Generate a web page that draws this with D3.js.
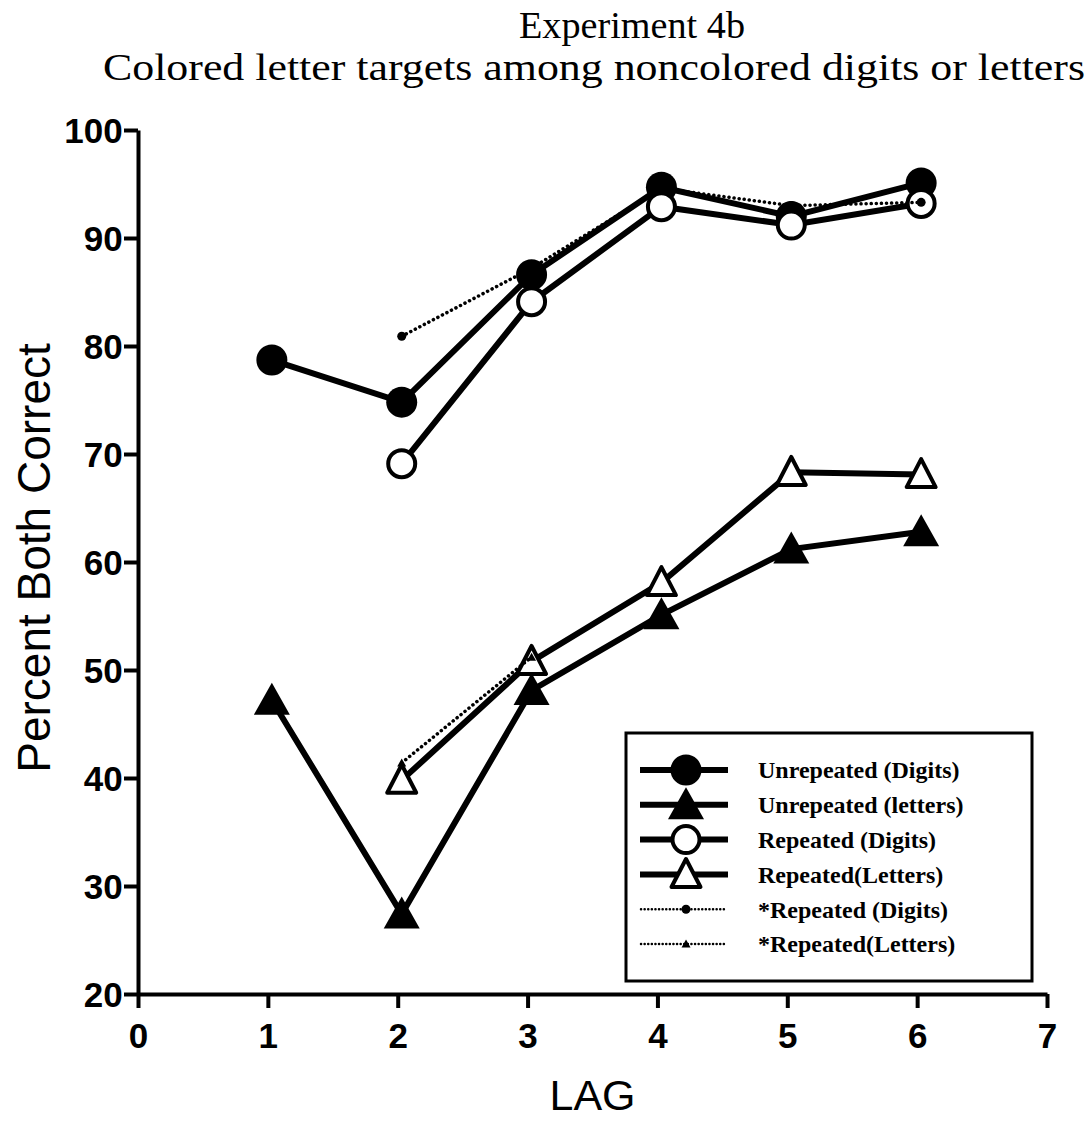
<!DOCTYPE html>
<html><head><meta charset="utf-8">
<script src="https://cdn.jsdelivr.net/npm/d3@7"></script>
<style>body{margin:0;background:#fff}svg{display:block}</style>
</head><body>
<svg id="c" width="1090" height="1123"></svg>
<script>
const lags = [1, 2, 3, 4, 5, 6];
const unrepDigits  = [78.7, 74.8, 86.6, 94.7, 92.0, 95.1];
const unrepLetters = [47.2, 27.4, 48.1, 55.1, 61.2, 62.8];
const repDigits    = [null, 69.1, 84.1, 92.9, 91.2, 93.2];
const repLetters   = [null, 39.8, 50.8, 58.1, 68.3, 68.1];
const starRepDigits  = [null, 80.9, 87.2, 94.6, 93.0, 93.3];
const starRepLetters = [null, 41.4, 51.2, null, null, null];
const xTicks = [0, 1, 2, 3, 4, 5, 6, 7];
const yTicks = [20, 30, 40, 50, 60, 70, 80, 90, 100];
const titleLines = ["Experiment 4b", "Colored letter targets among noncolored digits or letters"];
const legendLabels = ["Unrepeated (Digits)", "Unrepeated (letters)", "Repeated (Digits)", "Repeated(Letters)", "*Repeated (Digits)", "*Repeated(Letters)"];

const svg = d3.select("#c");
const x = d3.scaleLinear().domain([0, 7]).range([138, 1047]);
const y = d3.scaleLinear().domain([20, 100]).range([994, 130]);
const sans = "'Liberation Sans', Arial, sans-serif";
const serif = "'Liberation Serif', 'Times New Roman', serif";

// title
svg.append("text").attr("x", 632).attr("y", 38).attr("text-anchor", "middle")
  .attr("font-family", serif).attr("font-size", 37)
  .attr("textLength", 226).attr("lengthAdjust", "spacingAndGlyphs").text(titleLines[0]);
svg.append("text").attr("x", 594).attr("y", 80).attr("text-anchor", "middle")
  .attr("font-family", serif).attr("font-size", 37)
  .attr("textLength", 982).attr("lengthAdjust", "spacingAndGlyphs").text(titleLines[1]);

// axes
const gx = svg.append("g").attr("transform", `translate(0,${y(20)})`)
  .call(d3.axisBottom(x).tickValues(xTicks).tickFormat(d3.format("d")).tickSize(14).tickSizeOuter(0));
const gy = svg.append("g").attr("transform", `translate(${x(0)},0)`)
  .call(d3.axisLeft(y).tickValues(yTicks).tickFormat(d3.format("d")).tickSize(14).tickSizeOuter(0));
[gx, gy].forEach(g => {
  g.select(".domain").attr("stroke", "#000").attr("stroke-width", 4);
  g.selectAll(".tick line").attr("stroke", "#000").attr("stroke-width", 4);
  g.selectAll(".tick text").attr("font-family", sans).attr("font-weight", "bold")
    .attr("font-size", 35).attr("fill", "#000");
});
gx.selectAll(".tick text").attr("dy", "1.05em");
gy.selectAll(".tick text").attr("dx", "0.05em").attr("dy", "0.36em");

// axis titles
svg.append("text").attr("transform", `translate(50,${(y(20)+y(100))/2 - 4}) rotate(-90)`)
  .attr("text-anchor", "middle").attr("font-family", sans).attr("font-size", 46).text("Percent Both Correct");
svg.append("text").attr("x", x(3.5)).attr("y", 1110).attr("text-anchor", "middle")
  .attr("font-family", sans).attr("font-size", 43).text("LAG");

// marker helpers
function tri(cx, cy, w, h) {
  return `M${cx},${cy - h * 0.55}L${cx + w / 2},${cy + h * 0.45}L${cx - w / 2},${cy + h * 0.45}Z`;
}
const dx = 4;
const line = d3.line().defined(d => d[1] != null).x(d => x(d[0]) + dx).y(d => y(d[1]));
const pts = vals => lags.map((l, i) => [l, vals[i]]);

const series = [
  {vals: unrepDigits, marker: "fcircle"},
  {vals: repDigits, marker: "ocircle"},
  {vals: unrepLetters, marker: "ftri"},
  {vals: repLetters, marker: "otri"}
];
const plot = svg.append("g");
function drawMarker(g, type, cx, cy, scale) {
  scale = scale || 1;
  if (type === "fcircle") g.append("circle").attr("cx", cx).attr("cy", cy).attr("r", 15.5 * scale).attr("fill", "#000");
  if (type === "ocircle") g.append("circle").attr("cx", cx).attr("cy", cy).attr("r", 13.5 * scale).attr("fill", "#fff").attr("stroke", "#000").attr("stroke-width", 4);
  if (type === "ftri") g.append("path").attr("d", tri(cx, cy, 36 * scale, 32 * scale)).attr("fill", "#000");
  if (type === "otri") g.append("path").attr("d", tri(cx, cy, 29 * scale, 28 * scale)).attr("fill", "#fff").attr("stroke", "#000").attr("stroke-width", 4).attr("stroke-linejoin", "round");
  if (type === "sdot") g.append("circle").attr("cx", cx).attr("cy", cy).attr("r", 4.5).attr("fill", "#000");
  if (type === "stri") g.append("path").attr("d", tri(cx, cy, 9, 8)).attr("fill", "#000");
}
series.forEach(s => {
  const p = pts(s.vals);
  plot.append("path").attr("d", line(p)).attr("fill", "none").attr("stroke", "#000").attr("stroke-width", 6);
  p.filter(d => d[1] != null).forEach(d => drawMarker(plot, s.marker, x(d[0]) + dx, y(d[1])));
});
[{vals: starRepDigits, marker: "sdot"}, {vals: starRepLetters, marker: "stri"}].forEach(s => {
  const p = pts(s.vals);
  plot.append("path").attr("d", line(p)).attr("fill", "none").attr("stroke", "#000")
    .attr("stroke-width", 3.5).attr("stroke-dasharray", "0.1,5").attr("stroke-linecap", "round");
  p.filter(d => d[1] != null).forEach(d => drawMarker(plot, s.marker, x(d[0]) + dx, y(d[1])));
});

// legend
const lg = svg.append("g");
lg.append("rect").attr("x", 626).attr("y", 733).attr("width", 406).attr("height", 248)
  .attr("fill", "#fff").attr("stroke", "#000").attr("stroke-width", 3);
const legMarkers = ["fcircle", "ftri", "ocircle", "otri", "sdot", "stri"];
const rowY = d3.scalePoint().domain(d3.range(6)).range([770, 944]);
legMarkers.forEach((m, i) => {
  const cy = rowY(i);
  if (i < 4) {
    lg.append("line").attr("x1", 640).attr("x2", 728).attr("y1", cy).attr("y2", cy).attr("stroke", "#000").attr("stroke-width", 6);
  } else {
    lg.append("line").attr("x1", 641).attr("x2", 724).attr("y1", cy).attr("y2", cy).attr("stroke", "#000")
      .attr("stroke-width", 2.5).attr("stroke-dasharray", "0.1,3.5").attr("stroke-linecap", "round");
  }
  drawMarker(lg, m, 686, cy, 1);
  lg.append("text").attr("x", 758).attr("y", cy).attr("dy", "0.35em")
    .attr("font-family", serif).attr("font-weight", "bold").attr("font-size", 24).text(legendLabels[i]);
});
</script>
</body></html>
